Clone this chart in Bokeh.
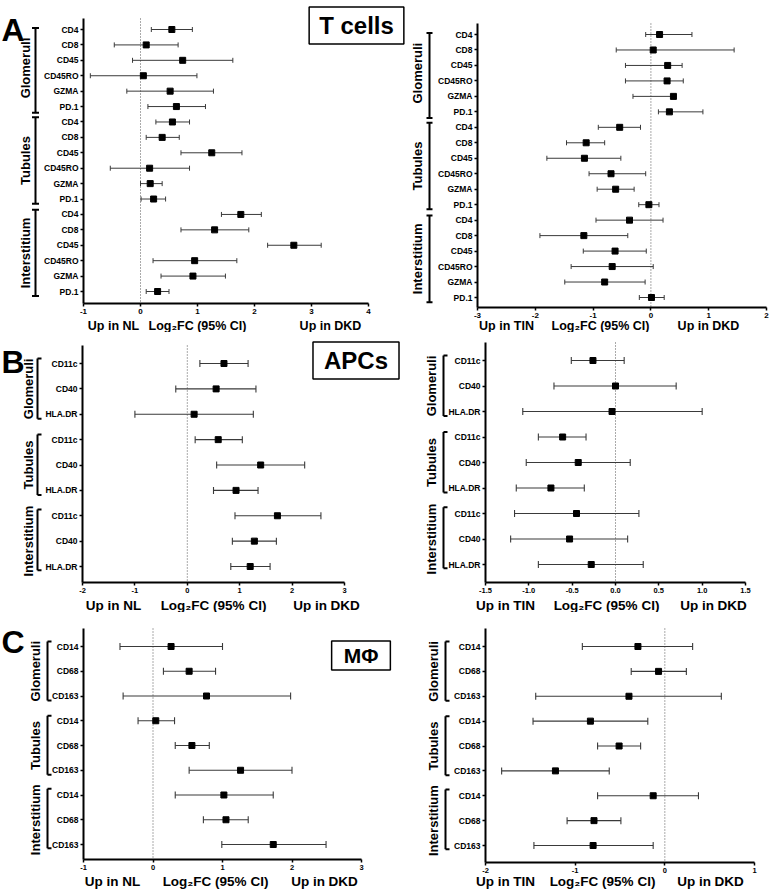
import numpy as np
from bokeh.plotting import figure
from bokeh.layouts import column, row
from bokeh.models import Range1d, FixedTicker, Label, ColumnDataSource
from bokeh.embed import file_html
from bokeh.resources import INLINE
from bokeh.core.properties import value

FONT = "Liberation Sans"

# ---------------- data ----------------
regions = ["Glomeruli", "Tubules", "Interstitium"]
tcell_markers = ["CD4", "CD8", "CD45", "CD45RO", "GZMA", "PD.1"]
apc_markers = ["CD11c", "CD40", "HLA.DR"]
mac_markers = ["CD14", "CD68", "CD163"]

# A left : DKD vs NL (T cells)
tcell_nl_est = [0.55, 0.10, 0.74, 0.05, 0.52, 0.63, 0.56, 0.38, 1.25, 0.16, 0.17, 0.23, 1.76, 1.30, 2.69, 0.95, 0.92, 0.30]
tcell_nl_lo = [0.19, -0.46, -0.14, -0.88, -0.24, 0.13, 0.27, 0.10, 0.71, -0.53, 0.00, 0.01, 1.42, 0.71, 2.23, 0.22, 0.36, 0.10]
tcell_nl_hi = [0.91, 0.66, 1.62, 0.99, 1.28, 1.14, 0.86, 0.68, 1.78, 0.86, 0.38, 0.44, 2.12, 1.90, 3.17, 1.69, 1.49, 0.50]
# A right : DKD vs TIN (T cells)
tcell_tin_est = [0.15, 0.04, 0.29, 0.28, 0.39, 0.32, -0.54, -1.12, -1.15, -0.69, -0.61, -0.035, -0.37, -1.16, -0.62, -0.67, -0.80, 0.01]
tcell_tin_lo = [-0.09, -0.60, -0.44, -0.44, -0.31, 0.13, -0.91, -1.46, -1.80, -1.07, -0.93, -0.21, -0.95, -1.92, -1.17, -1.38, -1.49, -0.20]
tcell_tin_hi = [0.71, 1.44, 0.54, 0.56, 0.42, 0.90, -0.18, -0.80, -0.52, -0.09, -0.29, 0.14, 0.21, -0.40, -0.08, 0.04, -0.10, 0.23]
# B left : DKD vs NL (APCs)
apc_nl_est = [0.70, 0.55, 0.13, 0.59, 1.40, 0.93, 1.72, 1.28, 1.20]
apc_nl_lo = [0.24, -0.22, -1.00, 0.15, 0.56, 0.50, 0.91, 0.86, 0.83]
apc_nl_hi = [1.16, 1.31, 1.26, 1.05, 2.24, 1.35, 2.55, 1.70, 1.58]
# B right : DKD vs TIN (APCs)
apc_tin_est = [-0.26, 0.00, -0.04, -0.61, -0.43, -0.745, -0.45, -0.53, -0.28]
apc_tin_lo = [-0.51, -0.71, -1.07, -0.89, -1.03, -1.145, -1.165, -1.21, -0.89]
apc_tin_hi = [0.10, 0.70, 1.00, -0.34, 0.17, -0.36, 0.27, 0.14, 0.32]
# C left : DKD vs NL (macrophages)
mac_nl_est = [0.26, 0.52, 0.77, 0.04, 0.56, 1.26, 1.02, 1.05, 1.73]
mac_nl_lo = [-0.475, 0.15, -0.43, -0.215, 0.32, 0.52, 0.32, 0.725, 0.99]
mac_nl_hi = [1.00, 0.90, 1.98, 0.31, 0.81, 2.00, 1.73, 1.37, 2.49]
# C right : DKD vs TIN (macrophages)
mac_tin_est = [-0.30, -0.07, -0.40, -0.83, -0.51, -1.22, -0.13, -0.79, -0.80]
mac_tin_lo = [-0.92, -0.375, -1.44, -1.47, -0.75, -1.82, -0.75, -1.09, -1.46]
mac_tin_hi = [0.31, 0.24, 0.63, -0.19, -0.27, -0.62, 0.375, -0.49, -0.13]

ticks_a_left = [-1, 0, 1, 2, 3, 4]
tick_labels_a_left = ["-1", "0", "1", "2", "3", "4"]
ticks_a_right = [-3, -2, -1, 0, 1, 2]
tick_labels_a_right = ["-3", "-2", "-1", "0", "1", "2"]
ticks_b_left = [-2, -1, 0, 1, 2, 3]
tick_labels_b_left = ["-2", "-1", "0", "1", "2", "3"]
ticks_b_right = [-1.5, -1.0, -0.5, 0.0, 0.5, 1.0, 1.5]
tick_labels_b_right = ["-1.5", "-1.0", "-0.5", "0.0", "0.5", "1.0", "1.5"]
ticks_c_left = [-1, 0, 1, 2, 3]
tick_labels_c_left = ["-1", "0", "1", "2", "3"]
ticks_c_right = [-2, -1, 0, 1]
tick_labels_c_right = ["-2", "-1", "0", "1"]

titles = ["T cells", "APCs", "M\u03a6"]
left_texts = ["Up in NL", "Up in TIN"]
mid_text = "Log\u2082FC (95% CI)"
right_text = "Up in DKD"


class Geo:
    """maps absolute picture pixels to the data space of one panel"""
    def __init__(self, X0, Y0, W, H, fl, fr, xr, r0, r1, n, top, bottom):
        self.X0, self.Y0, self.W, self.H = X0, Y0, W, H
        self.fl, self.xmin, self.xmax = fl, xr[0], xr[1]
        self.ppx = (fr - fl) / (xr[1] - xr[0])
        self.r0 = r0
        self.ppy = (r1 - r0) / (n - 1)
        self.top, self.bottom = top, bottom

    def X(self, px):
        return self.xmin + (px - self.fl) / self.ppx

    def Y(self, py):
        return (py - self.r0) / self.ppy


def build_panel(g, ticks, tlabels, labels, est, lo, hi, st, groups, tx, bx, cap_l, cap_r,
                pads, gfs, texts, text_xs, text_y, text_fs,
                title=None, letter=None):
    p = figure(width=g.W, height=g.H,
               x_range=Range1d(g.X(g.X0), g.X(g.X0 + g.W)),
               y_range=Range1d(g.Y(g.Y0 + g.H), g.Y(g.Y0)),
               title=None, output_backend="svg", toolbar_location=None, min_border=0)
    p.min_border_left = p.min_border_right = p.min_border_top = p.min_border_bottom = 0
    p.outline_line_color = None
    p.grid.visible = False
    n = len(labels)
    src = ColumnDataSource(dict(y=list(range(n)), est=est, lo=lo, hi=hi))
    ytop, ybot = g.Y(g.top), g.Y(g.bottom)

    # zero reference line
    p.segment(x0=[0], y0=[ytop], x1=[0], y1=[ybot], line_color="#555555",
              line_dash="1 2", line_width=1)
    # CIs and estimates
    p.segment(x0="lo", y0="y", x1="hi", y1="y", source=src,
              line_color="#3a3a3a", line_width=st["lw"])
    for col in ("lo", "hi"):
        p.scatter(x=col, y="y", source=src, marker="dash", angle=np.pi / 2,
                  size=st["cap"], line_color="#3a3a3a", line_width=st["lw"])
    p.scatter(x="est", y="y", source=src, marker="square", size=st["sq"],
              fill_color="black", line_color="black")

    # axes placed at fixed data locations
    xa = p.xaxis[0]
    ya = p.yaxis[0]
    xa.fixed_location = ybot
    xa.bounds = (g.xmin, g.xmax)
    ya.fixed_location = g.xmin
    ya.bounds = (min(ytop, ybot), max(ytop, ybot))
    xa.ticker = FixedTicker(ticks=ticks, minor_ticks=[])
    xa.major_label_overrides = {t: s for t, s in zip(ticks, tlabels)}
    ya.ticker = FixedTicker(ticks=list(range(n)), minor_ticks=[])
    ya.major_label_overrides = {i: s for i, s in enumerate(labels)}
    for ax, fs in ((xa, st["xfs"]), (ya, st["yfs"])):
        ax.axis_line_width = 2
        ax.axis_line_color = "black"
        ax.major_tick_line_width = 1.5
        ax.major_tick_line_color = "black"
        ax.major_tick_in = 0
        ax.major_tick_out = 3
        ax.minor_tick_line_color = None
        ax.major_label_text_font = FONT
        ax.major_label_text_font_style = "bold"
        ax.major_label_text_font_size = fs
        ax.major_label_text_color = "black"
        ax.major_label_standoff = 2

    # region brackets and labels
    tops = [a + pads[i][0] for i, (a, b) in enumerate(groups)]
    bots = [b + pads[i][1] for i, (a, b) in enumerate(groups)]
    mids = [(a + b) / 2 for a, b in groups]
    k = len(groups)
    p.segment(x0=[g.X(bx)] * k, y0=tops, x1=[g.X(bx)] * k, y1=bots,
              line_color="black", line_width=2)
    for yy in (tops, bots):
        p.segment(x0=[g.X(bx - cap_l)] * k, y0=yy, x1=[g.X(bx + cap_r)] * k, y1=yy,
                  line_color="black", line_width=2)
    p.text(x=[g.X(tx)] * k, y=mids, text=regions, angle=np.pi / 2,
           text_align="center", text_baseline="middle", text_font=value(FONT),
           text_font_style="bold", text_font_size=gfs, text_color="black")

    # bottom annotation texts
    p.text(x=[g.X(v) for v in text_xs], y=[g.Y(text_y)] * len(texts), text=texts,
           text_align="center", text_baseline="middle", text_font=value(FONT),
           text_font_style="bold", text_font_size=text_fs, text_color="black")

    if title is not None:
        t, cx, cy, fs, px, py = title
        p.add_layout(Label(x=g.X(cx), y=g.Y(cy), text=t, text_align="center",
                           text_baseline="middle", text_font=FONT, text_font_style="bold",
                           text_font_size=fs, text_color="black",
                           border_line_color="black", border_line_width=1.5,
                           background_fill_color="white",
                           padding=dict(left=px, right=px, top=py, bottom=py)))
    if letter is not None:
        L, lx, ly = letter
        p.text(x=[g.X(lx)], y=[g.Y(ly)], text=[L], text_align="left",
               text_baseline="alphabetic", text_font=value(FONT), text_font_style="bold",
               text_font_size="32px", text_color="black")
    return p


st_a = dict(lw=1, cap=5, sq=6, xfs="8px", yfs="8.5px")
st_bc = dict(lw=1.1, cap=7, sq=6, xfs="7.5px", yfs="8.5px")
t_groups = [(0, 5), (6, 11), (12, 17)]
s_groups = [(0, 2), (3, 5), (6, 8)]
a_pads = [(-0.1, 0.4), (-0.3, 0.3), (-0.3, 0.3)]
bc_pads = [(-0.2, 0.18), (-0.2, 0.18), (-0.25, 0.15)]

tcell_labels = tcell_markers * 3
apc_labels = apc_markers * 3
mac_labels = mac_markers * 3
trio_nl = [left_texts[0], mid_text, right_text]
trio_tin = [left_texts[1], mid_text, right_text]

# ---------------- row A (y 0..332) ----------------
gAL = Geo(0, 0, 407, 332, 83, 368, (-1, 4), 29, 291, 18, 18, 303)
pAL = build_panel(gAL, ticks_a_left, tick_labels_a_left, tcell_labels,
                  tcell_nl_est, tcell_nl_lo, tcell_nl_hi, st_a, t_groups, 25, 35, 3.5, 3.5,
                  a_pads, "13px", trio_nl, [113, 197, 330], 325, "12.5px",
                  title=(titles[0], 356, 25, "24px", 10, 5), letter=("A", 1, 29.5))
gAR = Geo(407, 0, 364, 332, 477, 766, (-3, 2), 34, 297, 18, 23, 307)
pAR = build_panel(gAR, ticks_a_right, tick_labels_a_right, tcell_labels,
                  tcell_tin_est, tcell_tin_lo, tcell_tin_hi, st_a, t_groups, 417, 429, 3, 3,
                  a_pads, "13px", trio_tin, [506, 600, 708], 325, "12.5px")

# ---------------- row B (y 332..612) ----------------
gBL = Geo(0, 332, 405, 280, 82, 344, (-2, 3), 363, 566, 9, 345, 582)
pBL = build_panel(gBL, ticks_b_left, tick_labels_b_left, apc_labels,
                  apc_nl_est, apc_nl_lo, apc_nl_hi, st_bc, s_groups, 28, 37, 0, 4,
                  bc_pads, "13px", trio_nl, [113, 213, 326], 604.5, "13.5px",
                  title=(titles[1], 355.5, 360, "24px", 11, 5), letter=("B", 1, 361.5))
gBR = Geo(405, 332, 366, 280, 485, 745, (-1.5, 1.5), 360, 564, 9, 342, 582)
pBR = build_panel(gBR, ticks_b_right, tick_labels_b_right, apc_labels,
                  apc_tin_est, apc_tin_lo, apc_tin_hi, st_bc, s_groups, 431, 443, 0, 4,
                  bc_pads, "13px", trio_tin, [505, 606, 713], 604.5, "13.5px")

# ---------------- row C (y 612..893) ----------------
gCL = Geo(0, 612, 405, 281, 83, 361, (-1, 3), 646, 844, 9, 628, 859)
pCL = build_panel(gCL, ticks_c_left, tick_labels_c_left, mac_labels,
                  mac_nl_est, mac_nl_lo, mac_nl_hi, st_bc, s_groups, 35, 47, 0, 4,
                  bc_pads, "13px", trio_nl, [112, 215, 324], 881, "13.5px",
                  title=(titles[2], 360.5, 655, "21px", 12, 3), letter=("C", 1, 641.5))
gCR = Geo(405, 612, 366, 281, 485, 754, (-2, 1), 646, 845, 9, 628, 862)
pCR = build_panel(gCR, ticks_c_right, tick_labels_c_right, mac_labels,
                  mac_tin_est, mac_tin_lo, mac_tin_hi, st_bc, s_groups, 433, 445, 0, 4,
                  bc_pads, "13px", trio_tin, [505, 602, 710], 881, "13.5px")

layout = column(row(pAL, pAR), row(pBL, pBR), row(pCL, pCR))

open("out.html", "w").write(file_html(layout, INLINE))
